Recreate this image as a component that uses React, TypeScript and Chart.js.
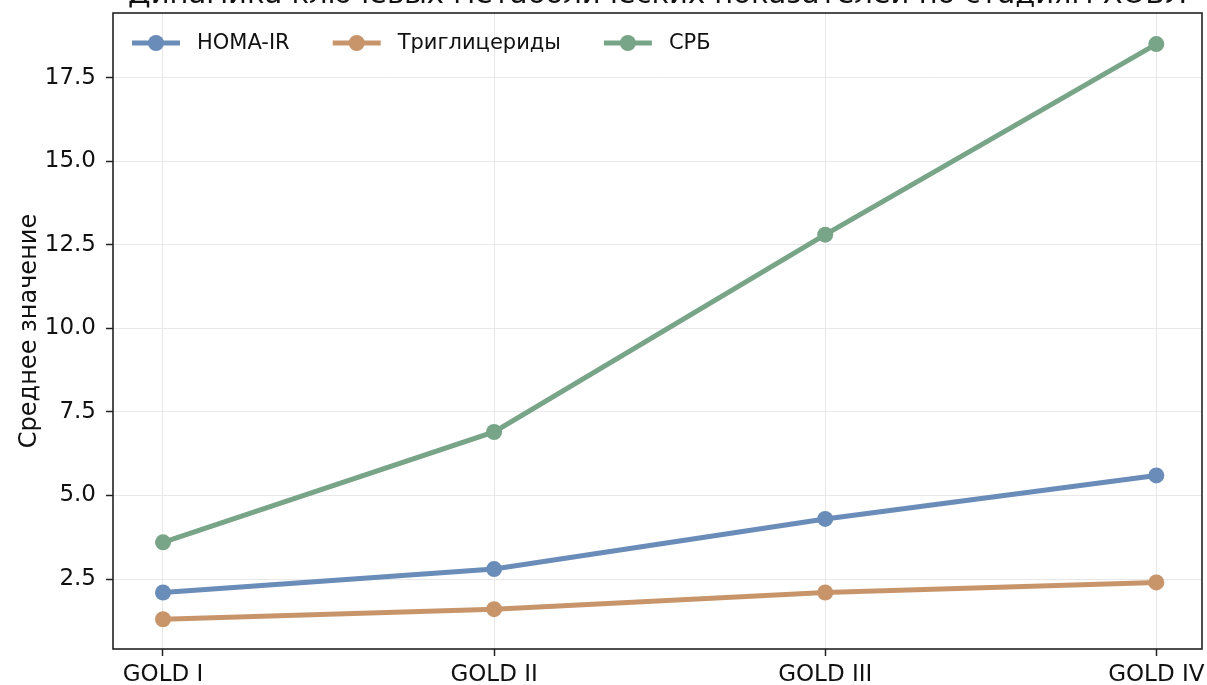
import React, { useEffect, useRef } from "react";
import { Chart, registerables } from "chart.js";

Chart.register(...registerables);

const categories = ["GOLD I", "GOLD II", "GOLD III", "GOLD IV"];
const homaIR = [2.1, 2.8, 4.3, 5.6];
const triglycerides = [1.3, 1.6, 2.1, 2.4];
const crp = [3.6, 6.9, 12.8, 18.5];
const seriesNames = ["HOMA-IR", "Триглицериды", "СРБ"];
const yTicks = [2.5, 5.0, 7.5, 10.0, 12.5, 15.0, 17.5];
const titleText = "Динамика ключевых метаболических показателей по стадиям ХОБЛ";
const yAxisTitle = "Среднее значение";

const COLORS = ["#6a8cb8", "#c8956b", "#78a488"];
const FONT = '"DejaVu Sans", sans-serif';
const TICK_FS = 23;
const LEGEND_FS = 21;
const LABEL_FS = 24;
const TITLE_FS = 29;

const W = 1207;
const H = 685;

const titlePlugin = {
  id: "topTitle",
  afterDraw(chart: any) {
    const { ctx, chartArea } = chart;
    ctx.save();
    ctx.font = `${TITLE_FS}px ${FONT}`;
    ctx.fillStyle = "#111";
    ctx.textAlign = "center";
    ctx.textBaseline = "alphabetic";
    ctx.fillText(titleText, (chartArea.left + chartArea.right) / 2, 3);
    ctx.restore();
  },
};

const framePlugin = {
  id: "frame",
  afterDraw(chart: any) {
    const { ctx, chartArea } = chart;
    ctx.save();
    ctx.strokeStyle = "#222";
    ctx.lineWidth = 1.6;
    ctx.strokeRect(chartArea.left, chartArea.top, chartArea.right - chartArea.left, chartArea.bottom - chartArea.top);
    ctx.restore();
  },
};

const legendPlugin = {
  id: "lineLegend",
  afterDraw(chart: any) {
    const { ctx, chartArea } = chart;
    ctx.save();
    ctx.font = `${LEGEND_FS}px ${FONT}`;
    let x = chartArea.left + 19;
    const y = 43;
    chart.data.datasets.forEach((ds: any) => {
      ctx.strokeStyle = ds.borderColor;
      ctx.lineWidth = 5;
      ctx.beginPath();
      ctx.moveTo(x, y);
      ctx.lineTo(x + 48, y);
      ctx.stroke();
      ctx.fillStyle = ds.borderColor;
      ctx.beginPath();
      ctx.arc(x + 24, y, 8, 0, Math.PI * 2);
      ctx.fill();
      ctx.fillStyle = "#111";
      ctx.textAlign = "left";
      ctx.textBaseline = "middle";
      ctx.fillText(ds.label, x + 65, y + 1);
      x += 65 + ctx.measureText(ds.label).width + 43;
    });
    ctx.restore();
  },
};

export default function App() {
  const ref = useRef<HTMLCanvasElement>(null);

  useEffect(() => {
    if (!ref.current) return;
    const mk = (vals: number[], i: number) => ({
      label: seriesNames[i],
      data: vals.map((v, k) => ({ x: k, y: v })),
      borderColor: COLORS[i],
      backgroundColor: COLORS[i],
      pointBackgroundColor: COLORS[i],
      pointBorderWidth: 0,
      pointRadius: 8,
      borderWidth: 5,
      tension: 0,
      clip: false as any,
    });
    const chart = new Chart(ref.current, {
      type: "line",
      data: {
        datasets: [mk(homaIR, 0), mk(triglycerides, 1), mk(crp, 2)],
      },
      options: {
        responsive: false,
        animation: false,
        devicePixelRatio: 1,
        layout: { autoPadding: false, padding: { left: 0, top: 13, right: 5, bottom: 0 } },
        plugins: {
          legend: { display: false },
          title: { display: false },
          tooltip: { enabled: false },
        },
        scales: {
          x: {
            type: "linear",
            min: -0.151,
            max: 3.138,
            afterBuildTicks: (s: any) => {
              s.ticks = categories.map((_, i) => ({ value: i }));
            },
            afterFit: (s: any) => {
              s.height = 36;
              s.paddingLeft = 0;
              s.paddingRight = 0;
            },
            ticks: {
              callback: (v: any) => categories[Math.round(Number(v))] ?? "",
              font: { family: FONT, size: TICK_FS },
              color: "#111",
              padding: 5,
              maxRotation: 0,
              autoSkip: false,
            },
            grid: {
              color: "#e8e8e8",
              lineWidth: 1,
              tickColor: "#222",
              tickLength: 7,
              tickWidth: 1.5,
            },
            border: { display: false },
          },
          y: {
            type: "linear",
            min: 0.41,
            max: 19.43,
            afterBuildTicks: (s: any) => {
              s.ticks = yTicks.map((v) => ({ value: v }));
            },
            afterFit: (s: any) => {
              s.width = 113;
              s.paddingTop = 0;
              s.paddingBottom = 0;
            },
            ticks: {
              callback: (v: any) => Number(v).toFixed(1),
              font: { family: FONT, size: TICK_FS },
              color: "#111",
              padding: 10,
            },
            grid: {
              color: "#e8e8e8",
              lineWidth: 1,
              tickColor: "#222",
              tickLength: 7,
              tickWidth: 1.5,
            },
            border: { display: false },
            title: {
              display: true,
              text: yAxisTitle,
              font: { family: FONT, size: LABEL_FS },
              color: "#111",
              padding: { top: 15, bottom: 0 },
            },
          },
        },
      },
      plugins: [titlePlugin, legendPlugin, framePlugin],
    });
    return () => chart.destroy();
  }, []);

  return (
    <div style={{ position: "fixed", left: 0, top: 0, width: W, height: H, background: "#fff" }}>
      <canvas ref={ref} width={W} height={H} style={{ display: "block" }} />
    </div>
  );
}
